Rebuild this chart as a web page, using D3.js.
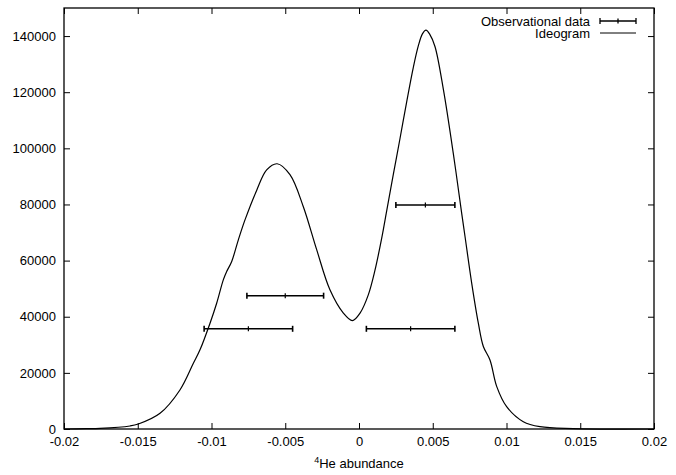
<!DOCTYPE html>
<html>
<head>
<meta charset="utf-8">
<script src="https://cdn.jsdelivr.net/npm/d3@7"></script>
<style>
  body { margin: 0; background: #fff; }
  svg text { font-family: "Liberation Sans", Arial, Helvetica, sans-serif; font-size: 13px; fill: #000; }
</style>
</head>
<body>
<div id="chart"></div>
<script>
// Ideogram curve
const ideoX = [-0.0200, -0.0185, -0.01756, -0.01553, -0.01496, -0.01349, -0.01214, -0.01123, -0.01078,
    -0.01010, -0.00965, -0.00920, -0.00897, -0.00863, -0.00818, -0.00773, -0.00694, -0.00626, -0.00555,
    -0.00468, -0.00378, -0.00287, -0.00197, -0.00106, -0.00045, 0.00007, 0.00063, 0.00108, 0.00154,
    0.00188, 0.00233, 0.00278, 0.00323, 0.00368, 0.00402, 0.00430, 0.00454, 0.00480, 0.00515, 0.00572,
    0.00639, 0.00696, 0.00719, 0.00764, 0.00809, 0.00843, 0.00888, 0.00934, 0.01001, 0.01114, 0.01227,
    0.01453, 0.0200];
const ideoY = [0, 100, 200, 1070, 1780, 5600, 13900, 23400, 28200,
    37700, 44800, 53150, 56100, 59700, 67400, 74500, 85000, 92300, 94500,
    90600, 79300, 63900, 49600, 41300, 38600, 41300, 47800, 56500, 68000,
    77800, 90800, 103500, 116500, 128800, 136500, 140800, 142100, 140600, 136300, 121000,
    98300, 76900, 68500, 52000, 37700, 29400, 24600, 15100, 7950, 2600, 820,
    140, 0];

// Observational data (value, plotted height, error)
const obsX = [-0.0050, -0.0075, 0.0035, 0.0045];
const obsY = [47500, 35700, 35700, 79800];
const obsErr = [0.0026, 0.0030, 0.0030, 0.0020];

// Ticks
const xTicks = [-0.02, -0.015, -0.01, -0.005, 0, 0.005, 0.01, 0.015, 0.02];
const yTicks = [0, 20000, 40000, 60000, 80000, 100000, 120000, 140000];

const margin = { top: 8, right: 22, bottom: 46, left: 64 },
    width = 676 - margin.left - margin.right,
    height = 475 - margin.top - margin.bottom;

const svg = d3.select("#chart")
    .append("svg")
    .attr("width", 676)
    .attr("height", 475)
    .append("g")
    .attr("transform", "translate(" + margin.left + "," + margin.top + ")");

const x = d3.scaleLinear().domain([-0.02, 0.02]).range([0, width]);
const y = d3.scaleLinear().domain([0, 150000]).range([height, 0]);

const fmtX = d => d === 0 ? "0" : String(+d.toFixed(3));

// Axes, ticks pointing inwards like gnuplot
svg.append("g")
    .attr("transform", "translate(0," + height + ")")
    .call(d3.axisBottom(x).tickValues(xTicks).tickFormat(fmtX).tickSizeInner(-6).tickSizeOuter(0).tickPadding(8));
svg.append("g")
    .call(d3.axisTop(x).tickValues(xTicks).tickFormat("").tickSizeInner(-6).tickSizeOuter(0));
svg.append("g")
    .call(d3.axisLeft(y).tickValues(yTicks).tickFormat(d3.format("d")).tickSizeInner(-6).tickSizeOuter(0).tickPadding(8));
svg.append("g")
    .attr("transform", "translate(" + width + ",0)")
    .call(d3.axisRight(y).tickValues(yTicks).tickFormat("").tickSizeInner(-6).tickSizeOuter(0));

svg.selectAll(".domain").remove();
svg.selectAll(".tick line").attr("stroke", "#000").attr("stroke-width", 1);
svg.selectAll(".tick text").attr("font-size", 13).attr("font-family", null);

// Frame
svg.append("rect")
    .attr("width", width)
    .attr("height", height)
    .attr("fill", "none")
    .attr("stroke", "#000")
    .attr("stroke-width", 1.3);

// X label with superscript 4
const xl = svg.append("text")
    .attr("x", width / 2)
    .attr("y", height + 39)
    .attr("text-anchor", "middle");
xl.append("tspan").attr("font-size", 9).attr("dy", -5).text("4");
xl.append("tspan").attr("dy", 5).text("He abundance");

// Ideogram curve
const ideo = ideoX.map((v, i) => ({ x: v, y: ideoY[i] }));
svg.append("path")
    .datum(ideo)
    .attr("fill", "none")
    .attr("stroke", "#000")
    .attr("stroke-width", 1.2)
    .attr("d", d3.line().x(d => x(d.x)).y(d => y(d.y)).curve(d3.curveCatmullRom.alpha(0.5)));

// Error bars
const obs = obsX.map((v, i) => ({ x: v, y: obsY[i], e: obsErr[i] }));
const cap = 3;
const bars = svg.append("g").attr("stroke", "#000").attr("stroke-width", 1.6);
obs.forEach(d => {
    const g = bars.append("g");
    g.append("line").attr("x1", x(d.x - d.e)).attr("x2", x(d.x + d.e)).attr("y1", y(d.y)).attr("y2", y(d.y));
    g.append("line").attr("x1", x(d.x - d.e)).attr("x2", x(d.x - d.e)).attr("y1", y(d.y) - cap).attr("y2", y(d.y) + cap);
    g.append("line").attr("x1", x(d.x + d.e)).attr("x2", x(d.x + d.e)).attr("y1", y(d.y) - cap).attr("y2", y(d.y) + cap);
    g.append("line").attr("x1", x(d.x)).attr("x2", x(d.x)).attr("y1", y(d.y) - 2.5).attr("y2", y(d.y) + 2.5).attr("stroke-width", 1.2);
});

// Legend
const lg = svg.append("g").attr("transform", "translate(" + (width - 64) + ",0)");
lg.append("text").attr("x", 0).attr("y", 13).attr("dy", "0.35em").attr("text-anchor", "end").text("Observational data");
lg.append("text").attr("x", 0).attr("y", 25).attr("dy", "0.35em").attr("text-anchor", "end").text("Ideogram");
const ls = lg.append("g").attr("stroke", "#000").attr("stroke-width", 1.3);
ls.append("line").attr("x1", 10).attr("x2", 46).attr("y1", 13).attr("y2", 13);
ls.append("line").attr("x1", 10).attr("x2", 10).attr("y1", 10).attr("y2", 16);
ls.append("line").attr("x1", 46).attr("x2", 46).attr("y1", 10).attr("y2", 16);
ls.append("line").attr("x1", 28).attr("x2", 28).attr("y1", 10.5).attr("y2", 15.5);
ls.append("line").attr("x1", 10).attr("x2", 46).attr("y1", 25).attr("y2", 25).attr("stroke-width", 1);
</script>
</body>
</html>
